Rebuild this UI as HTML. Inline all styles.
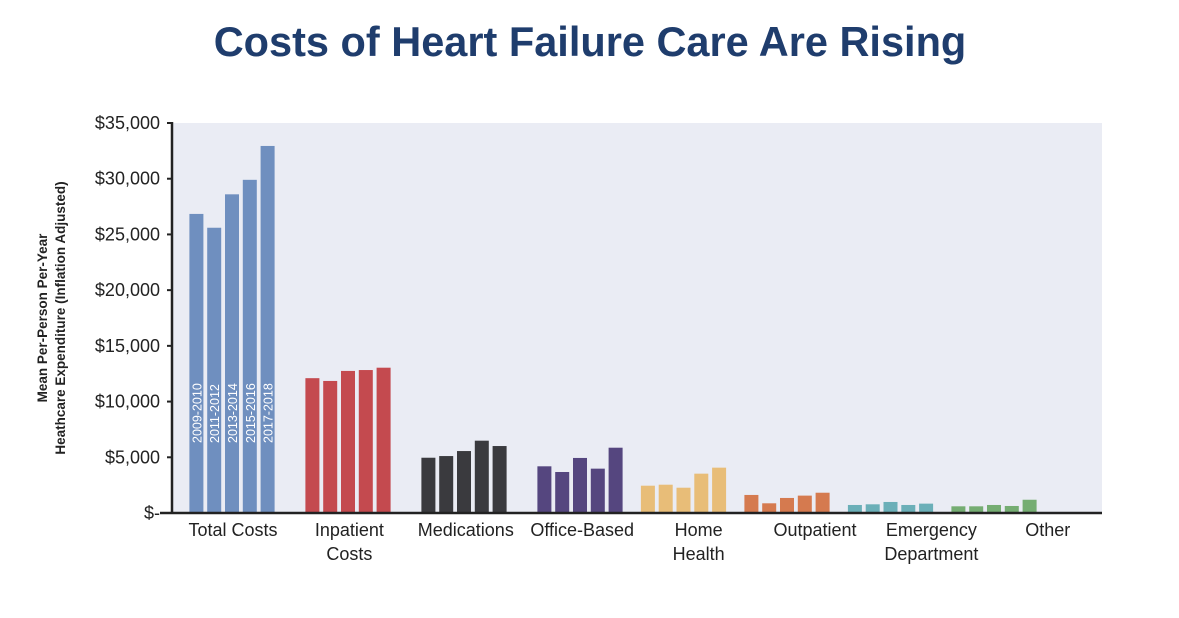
<!DOCTYPE html>
<html><head><meta charset="utf-8"><style>
body{margin:0;background:#fff;width:1179px;height:613px;overflow:hidden;font-family:"Liberation Sans",sans-serif}
</style></head><body>
<svg width="1179" height="613" xmlns="http://www.w3.org/2000/svg">
<text x="590" y="56" text-anchor="middle" font-size="41.5" font-weight="bold" fill="#1f3d6d">Costs of Heart Failure Care Are Rising</text>
<rect x="173" y="123" width="929" height="390" fill="#eaecf4"/>
<g id="yticks"></g>
<g id="bars"></g>
<g id="xlabels"></g>
<line x1="172" y1="122" x2="172" y2="514" stroke="#222" stroke-width="2.5"/>
<line x1="160" y1="513" x2="1102" y2="513" stroke="#222" stroke-width="2.5"/>
<g transform="translate(47,318) rotate(-90)">
<text x="0" y="0" text-anchor="middle" font-size="13.5" font-weight="bold" fill="#222">Mean Per-Person Per-Year</text>
<text x="0" y="18" text-anchor="middle" font-size="13.5" font-weight="bold" fill="#222">Heathcare Expenditure (Inflation Adjusted)</text>
</g>
</svg>
<script>
const categories=[["Total Costs"],["Inpatient","Costs"],["Medications"],["Office-Based"],["Home","Health"],["Outpatient"],["Emergency","Department"],["Other"]];
const periods=["2009-2010","2011-2012","2013-2014","2015-2016","2017-2018"];
const colors=["#6f8fbf","#c44a4f","#3a3a3e","#55467f","#e8bd78","#d57a4f","#6bafb8","#75ad72"];
const values=[
 [26840,25600,28600,29900,32940],
 [12100,11850,12750,12830,13040],
 [4960,5110,5560,6490,6010],
 [4190,3680,4940,3980,5860],
 [2450,2540,2270,3530,4070],
 [1620,870,1350,1560,1820],
 [720,780,990,720,840],
 [600,600,720,630,1190]];
const yTicks=[0,5000,10000,15000,20000,25000,30000,35000];
const yTickLabels=["$-","$5,000","$10,000","$15,000","$20,000","$25,000","$30,000","$35,000"];
const NS="http://www.w3.org/2000/svg";
const y=v=>513-v*390/35000;
const groupCenter=i=>i<4?232+i*116:580+(i-3)*103.5;
const labelCenter=i=>233+i*116.4;
const barW=14,pitch=17.8;
function mk(t,a){const e=document.createElementNS(NS,t);for(const k in a)e.setAttribute(k,a[k]);return e;}
const yt=document.getElementById('yticks');
yTicks.forEach((v,i)=>{
 const l=mk('line',{x1:167,x2:172,y1:y(v),y2:y(v),stroke:'#222','stroke-width':2});
 
 
 yt.appendChild(l);
 const t=mk('text',{x:160,y:y(v)+6,'text-anchor':'end','font-size':18,fill:'#222'});
 
 
 t.textContent=yTickLabels[i];yt.appendChild(t);
});
const bg=document.getElementById('bars');
values.forEach((s,g)=>{
 s.forEach((v,k)=>{
  const x=groupCenter(g)+(k-2)*pitch-barW/2;
  const r=mk('rect',{x:x,y:y(v),width:barW,height:513-y(v),fill:colors[g]});
  
  
  bg.appendChild(r);
  if(g===0){
   const cx=x+barW/2+5;
   const t=mk('text',{x:0,y:0,transform:`translate(${cx},443) rotate(-90)`,'font-size':12.5,fill:'#fff'});
   
   
   t.textContent=periods[k];bg.appendChild(t);
  }
 });
});
const xl=document.getElementById('xlabels');
categories.forEach((c,i)=>{
 c.forEach((line,j)=>{
  const t=mk('text',{x:labelCenter(i),y:536+j*24,'text-anchor':'middle','font-size':18,fill:'#222'});
  
  
  t.textContent=line;xl.appendChild(t);
 });
});
</script>
</body></html>
